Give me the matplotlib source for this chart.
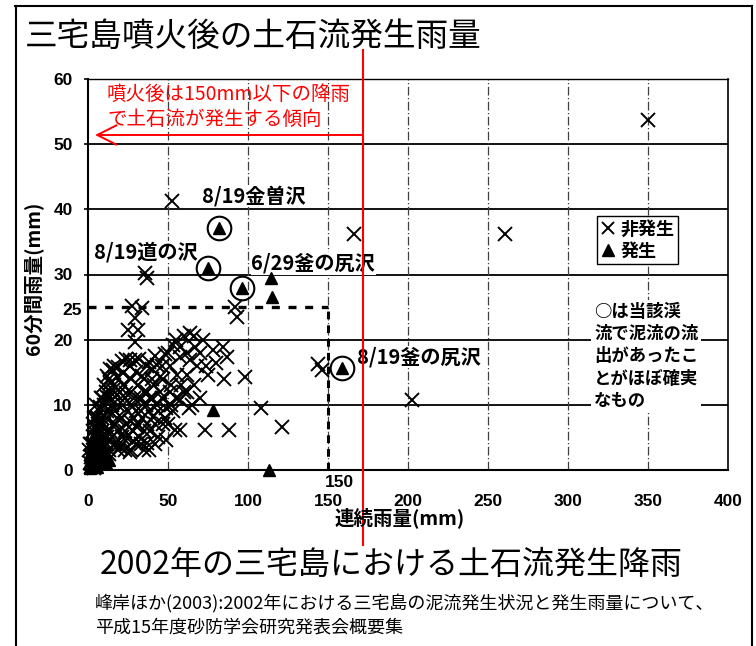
import numpy as np
import matplotlib
matplotlib.use('Agg')
import matplotlib.pyplot as plt
from matplotlib.lines import Line2D

plt.rcParams['font.family'] = ['Noto Sans CJK JP', 'DejaVu Sans']

# ---- data ----
# non-occurrence (x marks)
x_nf = [350, 52.5, 166, 260.5, 202.5, 37, 35.5, 92, 93, 146, 144, 108, 121, 88, 73, 57.5,
        57.5, 64, 67, 72, 78, 84.5, 57.5, 64, 70, 74, 80, 87, 98, 55.4, 61.7, 75.2, 45, 51,
        43, 36.7, 29.4, 26, 22, 18, 15.8, 13.8, 11.7,
        27.3, 33.5, 29.4, 25.2, 31.4, 29.4, 26.3,
        49, 57.5, 54.4, 49, 36.7, 26, 20, 30.4, 40.6, 32.5, 24, 15.8, 7.5, 5.4,
        10, 12, 14, 17, 19, 21, 23, 25, 27, 29, 31, 33, 35, 37, 39, 41, 43, 45, 47, 51, 53,
        44, 38, 28, 16, 11, 8, 6, 4, 9, 13, 18, 22, 34, 40, 47, 52, 60, 66, 70, 63, 68, 85,
        1, 2, 3, 4, 5, 6, 7, 8, 9, 11, 12, 14, 3, 5,
        2, 3, 4, 5, 6, 7, 8, 9, 10, 11, 12, 13, 14, 15, 16, 17, 18, 19, 20, 21, 22, 23, 24,
        26, 27, 28, 29, 30, 31, 32, 33, 34, 35, 36, 37, 38, 39, 40, 42, 44, 46, 48, 50, 52,
        55, 58, 62, 65,
        5, 7, 9, 10, 12, 13, 15, 16, 17, 19, 21, 23, 24, 27, 30, 33, 35, 42,
        10, 12, 14, 16, 19, 21, 24, 27, 30, 32, 35, 38, 40, 42, 46, 48, 50, 53, 55, 60, 62, 66,
        0.5, 1.5, 2, 3, 4, 6, 7, 9, 10, 11, 13]
y_nf = [53.7, 41.3, 36.2, 36.2, 10.7, 29.5, 30.2, 25, 23.5, 15.3, 16.3, 9.5, 6.6, 6.1, 6.1, 6.1,
        18.9, 21, 18.9, 20, 18.4, 18.9, 17.4, 16.9, 18, 15.9, 16.4, 17.4, 14.3, 14.6, 14.6, 14.6, 14.3, 15.9,
        16.1, 15.9, 16.9, 16, 14.9, 14.3, 15.3, 13.3, 11.2,
        25.1, 24.8, 23.3, 21.5, 21.5, 19.7, 16.9,
        9.5, 10.7, 6.1, 4.6, 4.1, 2.8, 3.6, 6.6, 8.2, 10.7, 11.8, 12.3, 9.7, 8.2,
        7, 5, 9, 7, 10, 8, 6, 9, 12, 8, 13, 9, 12, 7, 11, 13, 10, 12, 7, 12, 9,
        5, 3, 4.5, 4, 2.5, 5, 3, 5, 11, 14, 11.5, 13, 14.5, 15.5, 14, 13, 12, 13, 11, 9.5, 16, 14,
        1, 2, 3, 4, 5, 6, 4, 7, 6, 8, 4, 6, 7, 8,
        4, 6, 8, 10, 7, 9, 11, 8, 10, 12, 9, 11, 12, 10, 13, 9, 8, 6, 12, 5, 10, 11, 7,
        7.5, 10, 6, 11, 9, 7, 5, 11, 8, 6, 10, 12, 9, 6, 11, 7, 9, 11, 8, 7, 10,
        11, 13, 12, 10,
        2, 3, 4, 5, 6, 3, 5, 7, 4, 3, 4, 3, 5, 3, 4, 4, 3, 4,
        13, 14.5, 15.5, 16, 15.8, 16.8, 17, 14, 15, 17, 14, 16.5, 14, 17.5, 16, 17.8, 18, 19.2, 20, 20.5, 18, 20.5,
        3, 4, 0.5, 1.5, 0.3, 1, 5.5, 2.5, 1, 4, 2.5]

# occurrence (triangles)
x_oc = [114.4, 115, 78.3, 113, 82, 75, 96, 158.7,
        1, 2, 3, 4, 5, 6, 7, 8, 2, 3, 1, 9, 10, 12,
        0.5, 1.5, 2.5, 3.5, 4.5, 5.5, 6.5, 7.5, 4, 8.5, 11, 13]
y_oc = [29.5, 26.5, 9.2, 0, 37.1, 31, 28, 15.6,
        0.5, 1.5, 0.8, 2.5, 1.2, 3, 2, 4, 3.5, 5, 2.5, 1.5, 3, 2,
        1, 0.3, 2, 1, 3.5, 0.5, 2.5, 1, 4.5, 3, 1, 1.5]

# debris flow almost certainly occurred in that stream (circled)
x_circ = [82, 75, 96, 158.7]
y_circ = [37.1, 31, 28, 15.6]
circ_labels = ['8/19金曽沢', '8/19道の沢', '6/29釜の尻沢', '8/19釜の尻沢']

xticks = [0, 50, 100, 150, 200, 250, 300, 350, 400]
yticks = [0, 10, 20, 30, 40, 50, 60]

W, H = 756, 646
def fx(px):
    return px / W
def fy(py):
    return 1 - py / H

fig = plt.figure(figsize=(7.56, 6.46), dpi=100)
ax = fig.add_axes([fx(88), fy(470), 640 / W, 391 / H])

ax.set_xlim(0, 400)
ax.set_ylim(0, 60)
ax.set_xticks(xticks)
ax.set_yticks(yticks)

# grid: solid horizontals, dash-dot verticals
for yv in yticks[1:-1]:
    ax.axhline(yv, color='black', lw=1.3, zorder=1)
for xv in xticks[1:-1]:
    ax.axvline(xv, color='0.25', lw=0.9, ls=(0, (7, 2, 1, 2)), zorder=1)

ax.spines['left'].set_linewidth(1.5)
ax.spines['bottom'].set_linewidth(1.5)
ax.spines['top'].set_linewidth(1.0)
ax.spines['top'].set_linestyle((0, (8, 1, 1, 1)))
ax.spines['right'].set_linewidth(1.2)
ax.spines['right'].set_linestyle((0, (1, 1)))

tick_font = dict(family='Liberation Sans', weight='bold', size=12.5)
ax.tick_params(axis='x', length=0, pad=17)
ax.tick_params(axis='y', length=3, width=1.2, direction='out', pad=8)
for lab in ax.get_xticklabels() + ax.get_yticklabels():
    lab.set_fontproperties(tick_font)
    lab.set_family(['Liberation Sans'])

# threshold lines at 25 mm / 150 mm
ax.plot([0, 150], [25, 25], color='black', lw=2.4, ls=(0, (2.4, 2.6)), zorder=2, clip_on=False)
ax.plot([150, 150], [0, 25], color='black', lw=2.2, ls=(0, (2.5, 2.0)), zorder=2)
ax.text(-0.009, 24.4, '25', transform=ax.get_yaxis_transform(), ha='right', va='center',
        fontproperties=tick_font)
ax.text(148, -0.033, '150', transform=ax.get_xaxis_transform(), ha='left', va='center',
        fontproperties=tick_font)

# points
ax.plot(x_nf, y_nf, ls='none', marker='x', ms=9.5, mew=1.4, color='black', zorder=4,
        clip_on=False)
ax.plot(x_oc, y_oc, ls='none', marker='^', ms=8, color='black', zorder=5, clip_on=False)
ax.plot(x_circ, y_circ, ls='none', marker='o', ms=17, mfc='none', mec='black', mew=1.5, zorder=5)

ann_font = dict(size=14.5, weight='bold')
bb = dict(fc='white', ec='none', pad=0.5)
ax.text(71, 42.0, circ_labels[0], ha='left', va='center', bbox=bb, zorder=3, **ann_font)
ax.text(4, 33.4, circ_labels[1], ha='left', va='center', bbox=bb, zorder=3, **ann_font)
ax.text(102, 31.7, circ_labels[2], ha='left', va='center', bbox=bb, zorder=3, **ann_font)
ax.text(168, 17.4, circ_labels[3], ha='left', va='center', bbox=bb, zorder=3, **ann_font)

# legend
h_nf = Line2D([], [], ls='none', marker='x', ms=9, mew=1.4, color='black')
h_oc = Line2D([], [], ls='none', marker='^', ms=8, color='black')
leg = ax.legend([h_nf, h_oc], ['非発生', '発生'], loc='upper left',
                bbox_to_anchor=((597 - 88) / 640, (470 - 216) / 391),
                prop=dict(family=['Noto Sans CJK JP'], weight='bold', size=13),
                frameon=True, fancybox=False, edgecolor='black', framealpha=1,
                handlelength=0.8, handletextpad=0.3, borderpad=0.2, labelspacing=0.15,
                borderaxespad=0)
leg.get_frame().set_linewidth(1.0)

ax.text((594 - 88) / 640, (470 - 303) / 391,
        '○は当該渓\n流で泥流の流\n出があったこ\nとがほぼ確実\nなもの',
        transform=ax.transAxes, ha='left', va='top', linespacing=1.3,
        bbox=dict(fc='white', ec='none', pad=2), zorder=3, size=12.5, weight='bold')

# axis labels
fig.text(fx(400), fy(518), '連続雨量(mm)', ha='center', va='center', size=14, weight='bold')
fig.text(fx(33), fy(278), '60分間雨量(mm)', ha='center', va='center', rotation=90,
         size=14, weight='bold')

# red annotation
red = '#ff0000'
ax.annotate('', xy=((95 - 88) / 640, (470 - 135) / 391), xycoords='axes fraction',
            xytext=((363 - 88) / 640, (470 - 135) / 391), textcoords='axes fraction',
            arrowprops=dict(arrowstyle='->,head_length=0.7,head_width=0.35', color=red,
                            lw=1.4, mutation_scale=20, shrinkA=0, shrinkB=0))
fig.text(fx(107), fy(94), '噴火後は150mm以下の降雨', color=red, size=14, ha='left', va='center')
fig.text(fx(107), fy(119), 'で土石流が発生する傾向', color=red, size=14, ha='left', va='center')
fig.add_artist(Line2D([fx(363), fx(363)], [fy(50), fy(545)], color=red, lw=1.5))

# titles and citation
fig.text(fx(25), fy(37), '三宅島噴火後の土石流発生雨量', size=23.5, ha='left', va='center')
fig.text(fx(391), fy(565), '2002年の三宅島における土石流発生降雨', size=23, ha='center', va='center')
fig.text(fx(95), fy(604), '峰岸ほか(2003):2002年における三宅島の泥流発生状況と発生雨量について、',
         size=13, ha='left', va='center')
fig.text(fx(95), fy(627), '平成15年度砂防学会研究発表会概要集', size=13, ha='left', va='center')

# outer frame
fig.add_artist(Line2D([fx(15), fx(752)], [fy(6), fy(6)], color='black', lw=1.5))
fig.add_artist(Line2D([fx(15.5), fx(15.5)], [fy(6), 0], color='black', lw=1.5))
fig.add_artist(Line2D([fx(752), fx(752)], [fy(6), 0], color='black', lw=1.5))

fig.savefig('out.png', dpi=100)
